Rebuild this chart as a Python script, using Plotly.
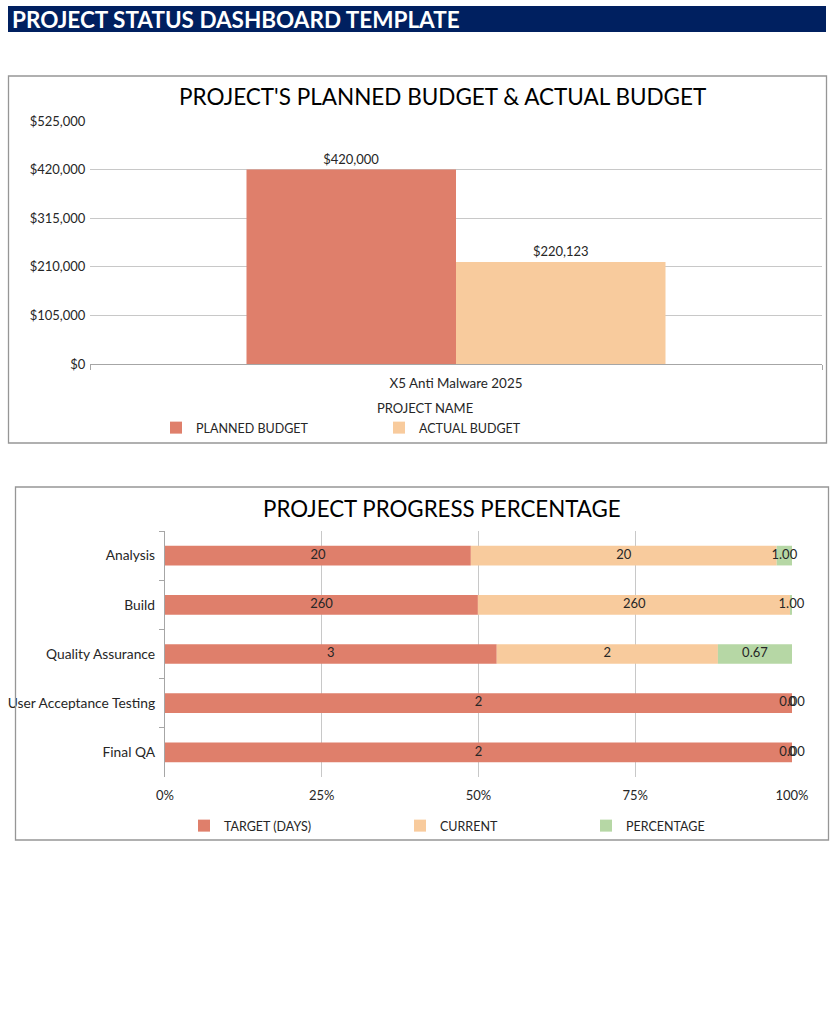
import plotly.graph_objects as go
import numpy as np

W, H = 837, 1020

# ---------------- data ----------------
project_names = ["X5 Anti Malware 2025"]
planned_budget = [420000]
actual_budget = [220123]
budget_ticks = [0, 105000, 210000, 315000, 420000, 525000]

phases = ["Analysis", "Build", "Quality Assurance", "User Acceptance Testing", "Final QA"]
target_days = [20, 260, 3, 2, 2]
current_days = [20, 260, 2, 0, 0]
percentage = [1.00, 1.00, 0.67, 0.00, 0.00]
pct_ticks = [0, 25, 50, 75, 100]
pct_tick_labels = ["0%", "25%", "50%", "75%", "100%"]

C_PLAN = "#DF7F6B"
C_ACT = "#F8CB9D"
C_PCT = "#B6D7A5"
TXT = "#262626"
GRID = "#C8C8C8"
AXIS = "#A6A6A6"
FONT = "Lato"


def px_x(p):
    return p / W


def px_y(p):
    return 1 - p / H


fig = go.Figure()

# ---------------- chart 1 ----------------
fig.add_trace(go.Bar(
    x=project_names, y=planned_budget, name="PLANNED BUDGET",
    marker=dict(color=C_PLAN, line=dict(width=0)),
    text=[f"${v:,.0f}" for v in planned_budget], textposition="outside",
    textfont=dict(size=13, color=TXT), cliponaxis=False,
    xaxis="x", yaxis="y", legend="legend",
))
fig.add_trace(go.Bar(
    x=project_names, y=actual_budget, name="ACTUAL BUDGET",
    marker=dict(color=C_ACT, line=dict(width=0)),
    text=[f"${v:,.0f}" for v in actual_budget], textposition="outside",
    textfont=dict(size=13, color=TXT), cliponaxis=False,
    xaxis="x", yaxis="y", legend="legend2",
))

# ---------------- chart 2 ----------------
tgt = np.array(target_days, dtype=float)
cur = np.array(current_days, dtype=float)
pct = np.array(percentage, dtype=float)
tot = tgt + cur + pct
tgt_n = tgt / tot * 100
cur_n = cur / tot * 100
pct_n = pct / tot * 100

fig.add_trace(go.Bar(
    y=phases, x=tgt_n, base=np.zeros(len(phases)), orientation="h", name="TARGET (DAYS)",
    marker=dict(color=C_PLAN, line=dict(width=0)), width=0.4, offset=-0.2,
    xaxis="x2", yaxis="y2", legend="legend3",
))
fig.add_trace(go.Bar(
    y=phases, x=cur_n, base=tgt_n, orientation="h", name="CURRENT",
    marker=dict(color=C_ACT, line=dict(width=0)), width=0.4, offset=-0.2,
    xaxis="x2", yaxis="y2", legend="legend4",
))
fig.add_trace(go.Bar(
    y=phases, x=pct_n, base=tgt_n + cur_n, orientation="h", name="PERCENTAGE",
    marker=dict(color=C_PCT, line=dict(width=0)), width=0.4, offset=-0.2,
    xaxis="x2", yaxis="y2", legend="legend5",
))

# data labels (centred in each segment)
mid_t = tgt_n / 2
mid_c = tgt_n + cur_n / 2
mid_p = tgt_n + cur_n + pct_n / 2
for xs, labels in [
    (mid_t, [f"{v:.0f}" for v in target_days]),
    (mid_c, [f"{v:.0f}" for v in current_days]),
    (mid_p, [f"{v:.2f}" for v in percentage]),
]:
    fig.add_trace(go.Scatter(
        x=xs, y=phases, mode="text", text=labels,
        textposition="middle center", textfont=dict(size=13, color=TXT),
        showlegend=False, hoverinfo="skip", cliponaxis=False,
        xaxis="x2", yaxis="y2",
    ))

# ---------------- layout ----------------
legend_common = dict(orientation="h", yanchor="middle", xanchor="left",
                     font=dict(size=12.5, color=TXT, family=FONT),
                     bgcolor="rgba(0,0,0,0)", borderwidth=0)

fig.update_layout(
    width=W, height=H, autosize=False,
    margin=dict(l=0, r=0, t=0, b=0, pad=0, autoexpand=False),
    paper_bgcolor="white", plot_bgcolor="white",
    font=dict(family=FONT, color=TXT, size=13),
    barmode="group", bargap=0.4276, bargroupgap=0,
    xaxis=dict(domain=[px_x(90), px_x(822)], anchor="y", type="category",
               automargin=False,
               showline=True, linecolor=AXIS, linewidth=1.3,
               ticks="outside", tickson="boundaries", ticklen=5, tickcolor=AXIS,
               tickwidth=1.3, ticklabelstandoff=7,
               showgrid=False, tickfont=dict(size=13.4, color=TXT)),
    yaxis=dict(domain=[px_y(364), px_y(121)], anchor="x", range=[0, 525000],
               automargin=False,
               tickvals=budget_ticks, ticktext=[f"${v:,.0f}" for v in budget_ticks],
               showgrid=True, gridcolor=GRID, gridwidth=1, zeroline=False,
               showline=False, ticks="outside", ticklen=1, tickcolor="rgba(0,0,0,0)",
               tickfont=dict(size=13, color=TXT)),
    xaxis2=dict(domain=[px_x(165), px_x(792)], anchor="y2", range=[0, 100],
                automargin=False,
                tickvals=pct_ticks, ticktext=pct_tick_labels,
                showgrid=True, gridcolor=GRID, gridwidth=1, zeroline=False,
                showline=False, ticks="outside", ticklen=6, tickcolor="rgba(0,0,0,0)",
                tickfont=dict(size=13, color=TXT)),
    yaxis2=dict(domain=[px_y(777), px_y(531)], anchor="x2", type="category",
                automargin=False,
                autorange="reversed", showline=True, linecolor=AXIS, linewidth=1.3,
                ticks="outside", tickson="boundaries", ticklen=5, tickcolor=AXIS,
                tickwidth=1.3, ticklabelstandoff=6,
                showgrid=False, tickfont=dict(size=13.8, color=TXT)),
    legend=dict(x=px_x(156), y=px_y(428), **legend_common),
    legend2=dict(x=px_x(379), y=px_y(428), **legend_common),
    legend3=dict(x=px_x(184), y=px_y(826), **legend_common),
    legend4=dict(x=px_x(400), y=px_y(826), **legend_common),
    legend5=dict(x=px_x(586), y=px_y(826), **legend_common),
)

shapes = [
    # header bar
    dict(type="rect", xref="paper", yref="paper", x0=px_x(8), x1=px_x(826),
         y0=px_y(32), y1=px_y(6), fillcolor="#002060", line=dict(width=0), layer="below"),
    # chart 1 border
    dict(type="rect", xref="paper", yref="paper", x0=px_x(8.5), x1=px_x(826.5),
         y0=px_y(443), y1=px_y(76), line=dict(color="#969696", width=1.3)),
    # chart 2 border
    dict(type="rect", xref="paper", yref="paper", x0=px_x(15.5), x1=px_x(828.5),
         y0=px_y(840), y1=px_y(487), line=dict(color="#969696", width=1.3)),
]
annotations = [
    dict(text="<b>PROJECT STATUS DASHBOARD TEMPLATE</b>", xref="paper", yref="paper",
         x=px_x(10), y=px_y(19), xanchor="left", yanchor="middle", showarrow=False,
         font=dict(size=22.5, color="white", family=FONT)),
    dict(text="PROJECT'S PLANNED BUDGET & ACTUAL BUDGET", xref="paper", yref="paper",
         x=px_x(443), y=px_y(96), xanchor="center", yanchor="middle", showarrow=False,
         font=dict(size=22.5, color="#000000", family=FONT)),
    dict(text="PROJECT PROGRESS PERCENTAGE", xref="paper", yref="paper",
         x=px_x(442), y=px_y(508), xanchor="center", yanchor="middle", showarrow=False,
         font=dict(size=22.3, color="#000000", family=FONT)),
    dict(text="PROJECT NAME", xref="paper", yref="paper",
         x=px_x(425), y=px_y(408), xanchor="center", yanchor="middle", showarrow=False,
         font=dict(size=13, color=TXT, family=FONT)),
]
fig.update_layout(shapes=shapes, annotations=annotations)

fig.write_html(
    "out.html",
    post_script="document.body.style.margin='0';document.body.style.padding='0';"
                "document.body.style.overflow='hidden';",
)
